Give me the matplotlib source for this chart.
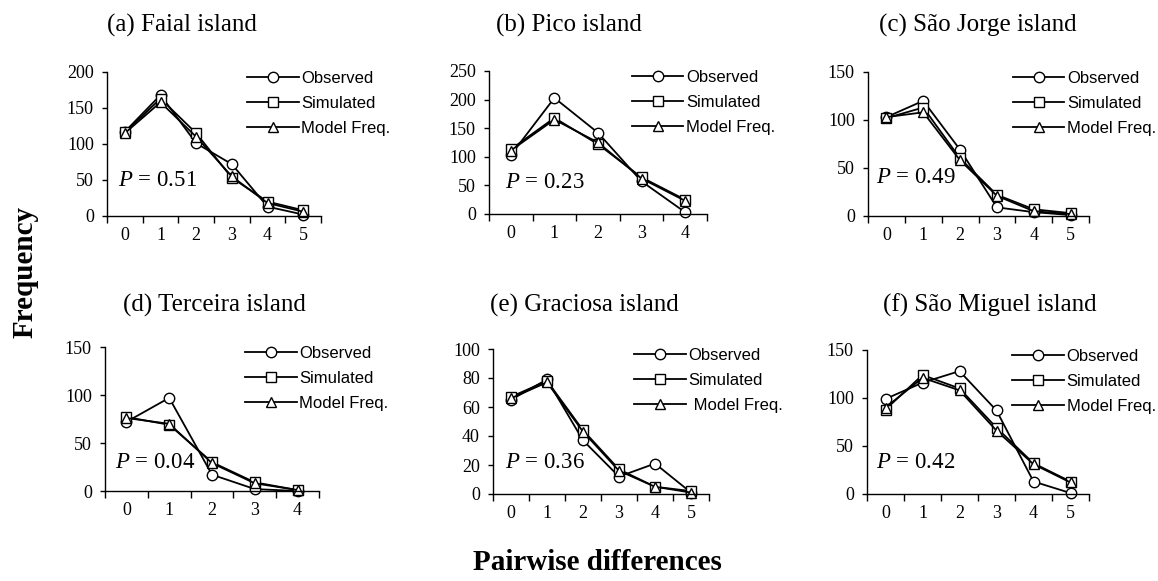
import matplotlib
matplotlib.use("Agg")
import matplotlib.pyplot as plt

plt.rcParams['font.family'] = ['Liberation Serif', 'DejaVu Serif']
plt.rcParams['mathtext.fontset'] = 'custom'
plt.rcParams['mathtext.it'] = 'Liberation Serif:italic'
plt.rcParams['mathtext.rm'] = 'Liberation Serif'

W, H = 1158, 581

# ---- data ----
titles = ["(a) Faial island", "(b) Pico island", "(c) São Jorge island",
          "(d) Terceira island", "(e) Graciosa island", "(f) São Miguel island"]
p_values = ["0.51", "0.23", "0.49", "0.04", "0.36", "0.42"]
y_max = [200, 250, 150, 150, 100, 150]
y_step = [50, 50, 50, 50, 20, 50]

faial_obs = [117, 168, 101, 72, 13, 2]
faial_sim = [116, 163, 115, 53, 20, 8]
faial_mod = [115, 158, 110, 55, 18, 6]

pico_obs = [103, 203, 142, 57, 3]
pico_sim = [113, 168, 122, 64, 25]
pico_mod = [111, 165, 125, 62, 23]

jorge_obs = [103, 120, 69, 9, 4, 1]
jorge_sim = [102, 113, 60, 22, 7, 3]
jorge_mod = [103, 108, 58, 21, 5, 2]

terceira_obs = [72, 97, 17, 2, 0]
terceira_sim = [77, 69, 30, 9, 1]
terceira_mod = [76, 70, 29, 8, 1]

graciosa_obs = [65, 79, 37, 12, 21, 1]
graciosa_sim = [67, 78, 44, 17, 5, 2]
graciosa_mod = [66, 77, 43, 16, 5, 1]

miguel_obs = [99, 116, 128, 87, 13, 1]
miguel_sim = [88, 124, 110, 69, 32, 13]
miguel_mod = [90, 121, 108, 66, 31, 12]

series = [
    (faial_obs, faial_sim, faial_mod),
    (pico_obs, pico_sim, pico_mod),
    (jorge_obs, jorge_sim, jorge_mod),
    (terceira_obs, terceira_sim, terceira_mod),
    (graciosa_obs, graciosa_sim, graciosa_mod),
    (miguel_obs, miguel_sim, miguel_mod),
]
legend_labels = [
    ["Observed", "Simulated", "Model Freq."],
    ["Observed", "Simulated", "Model Freq."],
    ["Observed", "Simulated", "Model Freq."],
    ["Observed", "Simulated", "Model Freq."],
    ["Observed", "Simulated", " Model Freq."],
    ["Observed", "Simulated", "Model Freq."],
]

# axes boxes in pixels: left, right, top, bottom
boxes = [(107, 321, 72, 216), (489, 707, 71, 214), (868, 1089, 72, 216),
         (105, 319, 347, 491), (493, 709, 349, 494), (867, 1089, 350, 494)]
title_pos = [(107, 25), (496, 25), (879, 25), (123, 305), (490, 305), (883, 305)]
p_pos = [(0.05, 0.25), (0.073, 0.22), (0.036, 0.27), (0.047, 0.2), (0.055, 0.22), (0.04, 0.22)]

fig = plt.figure(figsize=(W / 100, H / 100), dpi=100)

markers = ['o', 's', '^']
for i in range(6):
    l, r, t, b = boxes[i]
    ax = fig.add_axes([l / W, 1 - b / H, (r - l) / W, (b - t) / H])
    n = len(series[i][0])
    cats = list(range(n))
    for vals, m, lab in zip(series[i], markers, legend_labels[i]):
        ax.plot(cats, vals, color='black', lw=1.3, marker=m, ms=7.5,
                mfc='white', mec='black', mew=1.0, label=lab, clip_on=False)
    ax.set_xlim(-0.5, n - 0.5)
    ax.set_ylim(0, y_max[i])
    ax.set_yticks(range(0, y_max[i] + 1, y_step[i]))
    ax.set_xticks([c - 0.5 for c in range(n + 1)])
    ax.set_xticklabels([])
    ax.set_xticks(cats, minor=True)
    ax.set_xticklabels([str(c) for c in cats], minor=True)
    ax.tick_params(axis='x', which='major', direction='out', length=5, width=1)
    ax.tick_params(axis='x', which='minor', length=0, pad=8, labelsize=13)
    ax.tick_params(axis='y', direction='out', length=3.5, width=1, pad=6, labelsize=13)
    for s in ['top', 'right']:
        ax.spines[s].set_visible(False)
    for s in ['left', 'bottom']:
        ax.spines[s].set_linewidth(1.0)
    ax.text(p_pos[i][0], p_pos[i][1], r"$P$ = " + p_values[i], transform=ax.transAxes,
            fontsize=16.5, va='center', ha='left')
    ax.legend(loc='upper left', bbox_to_anchor=(0.655, 1.005), frameon=False,
              handlelength=3.1, handletextpad=0.15, labelspacing=0.6, borderpad=0,
              borderaxespad=0, prop={'family': 'Liberation Sans', 'size': 12})
    fig.text(title_pos[i][0] / W, 1 - title_pos[i][1] / H, titles[i],
             fontsize=18, ha='left', va='center')

fig.text(25 / W, 1 - 272 / H, "Frequency", rotation=90, fontsize=21,
         fontweight='bold', ha='center', va='center')
fig.text(597 / W, 1 - 563 / H, "Pairwise differences", fontsize=21,
         fontweight='bold', ha='center', va='center')

fig.savefig("out.png", dpi=100)
